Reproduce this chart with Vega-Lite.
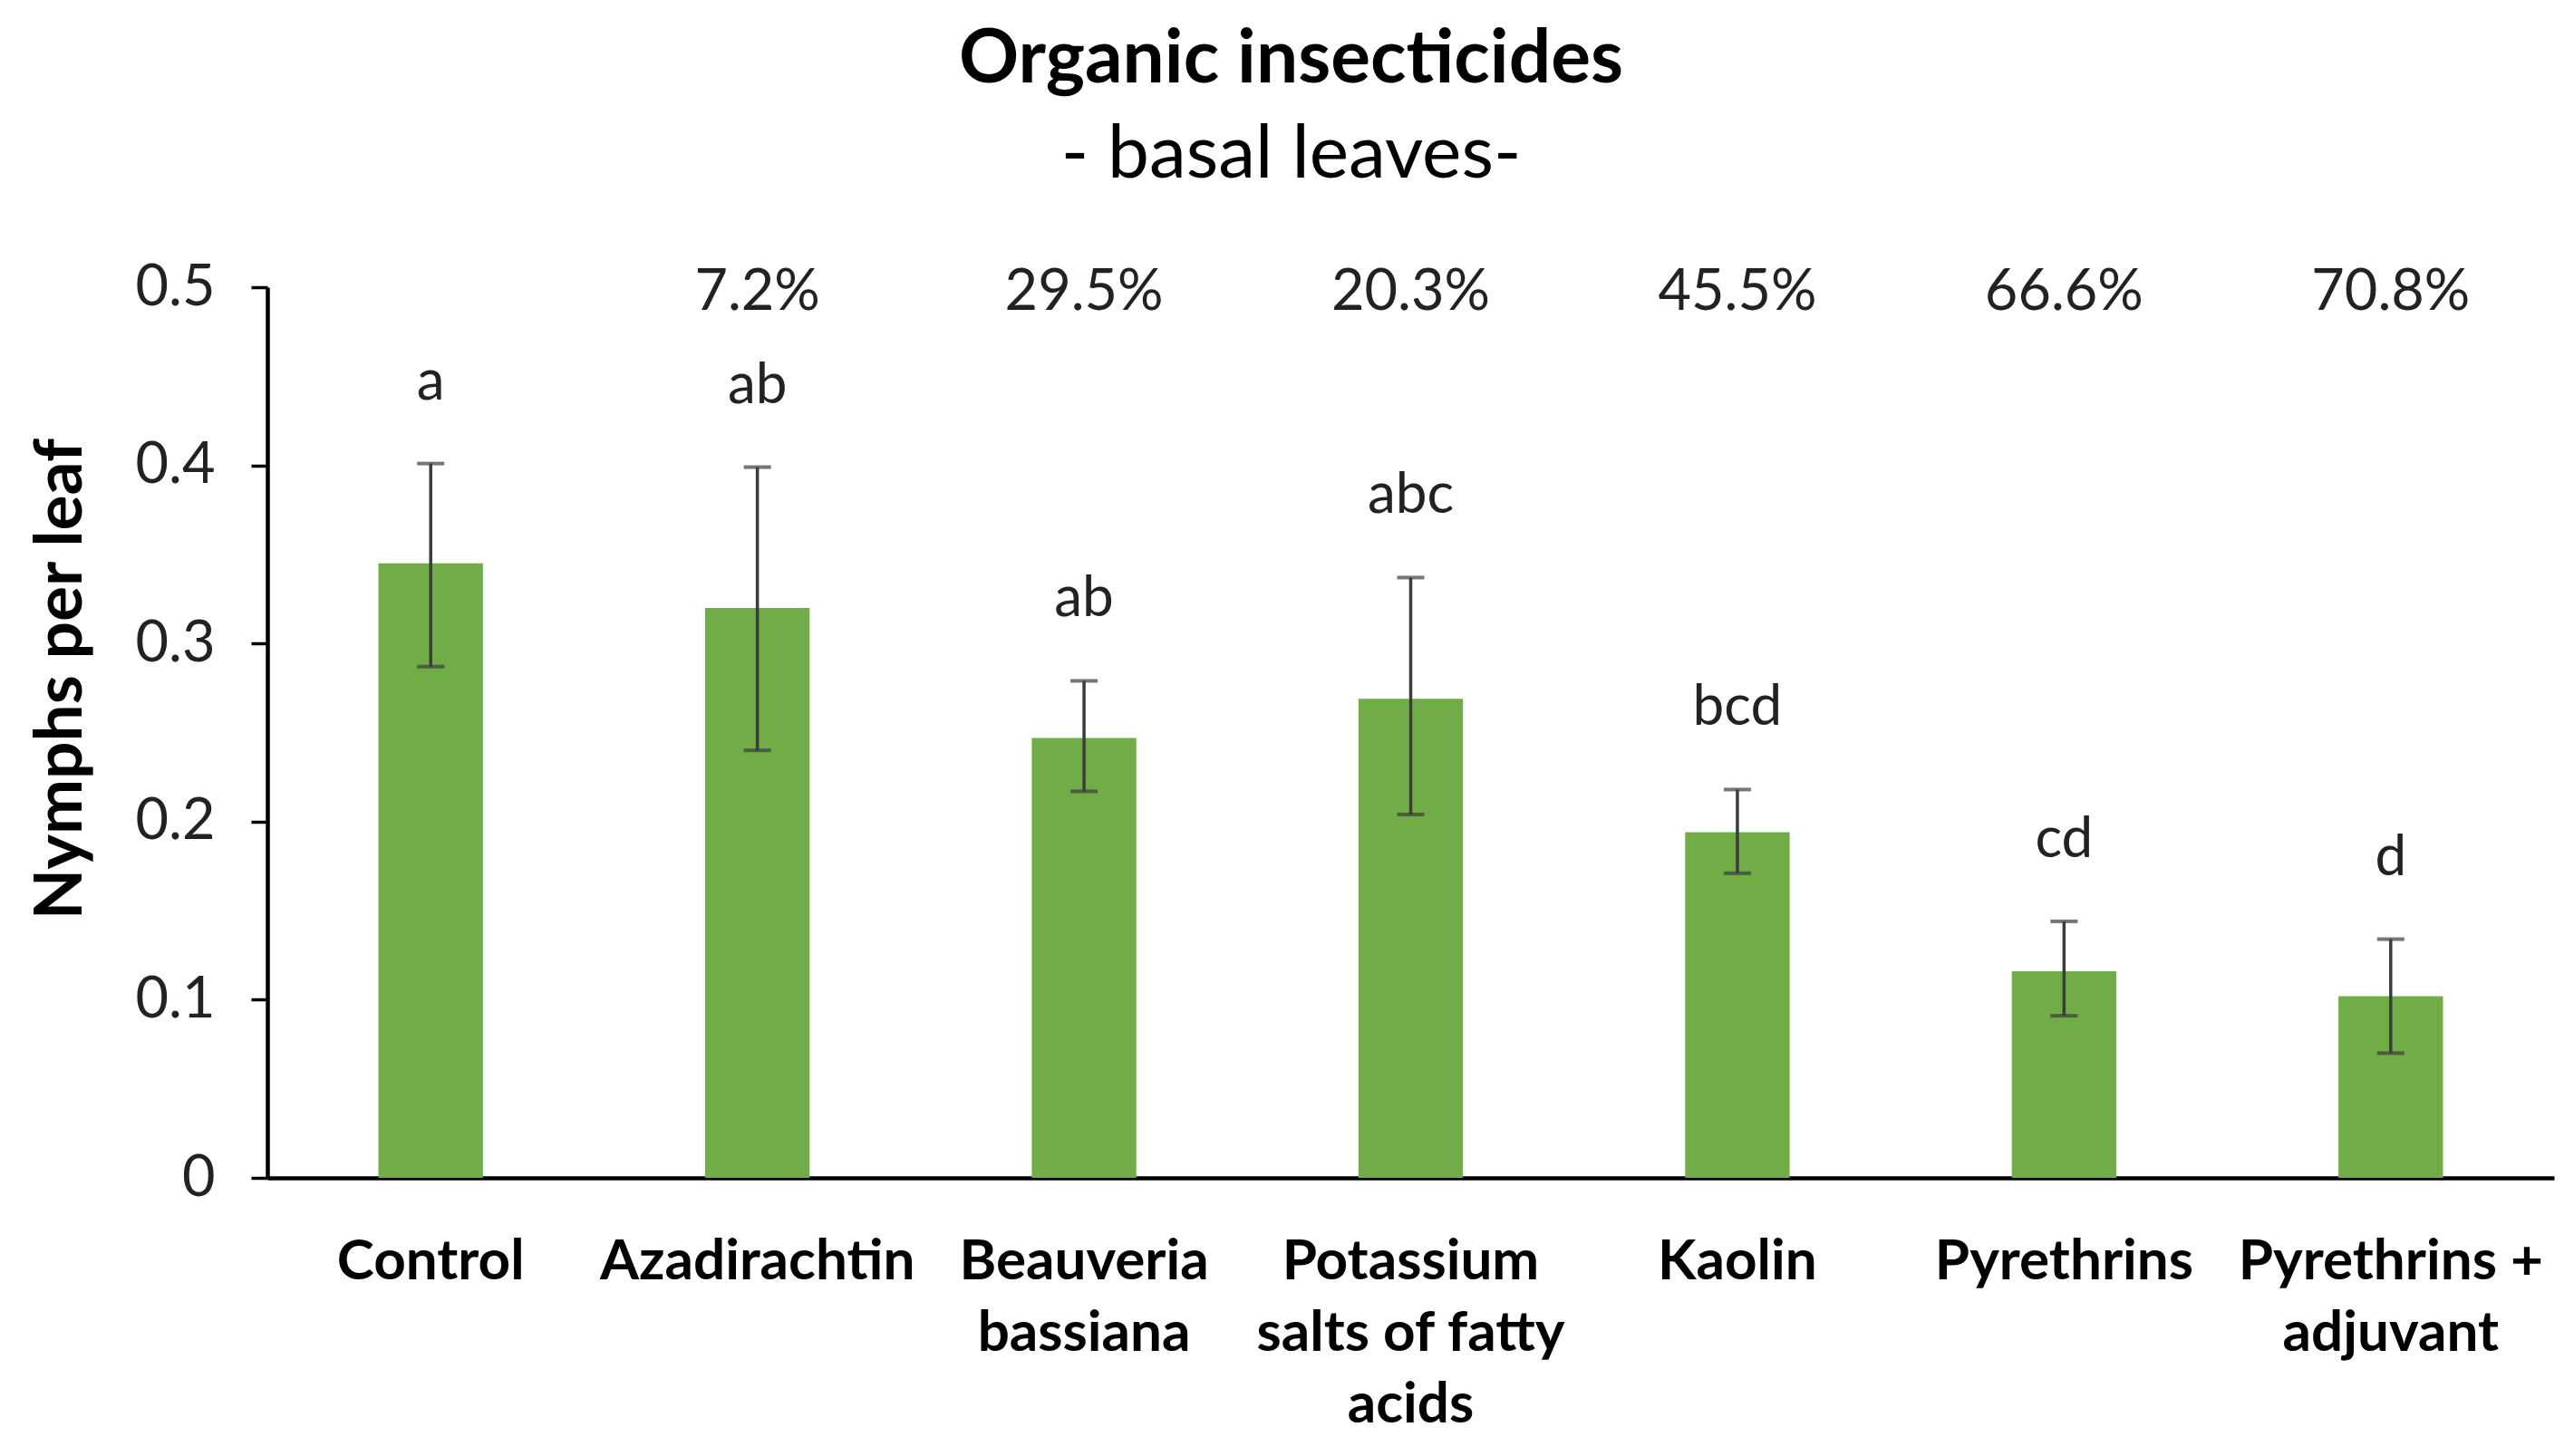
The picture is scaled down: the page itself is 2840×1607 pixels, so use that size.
{
  "$schema": "https://vega.github.io/schema/vega-lite/v6.json",
  "width": 2523,
  "height": 983,
  "autosize": "none",
  "padding": {"left": 295, "top": 317, "right": 22, "bottom": 307},
  "background": "white",
  "config": {"font": "Lato", "view": {"stroke": null}},
  "title": {
    "text": "Organic insecticides",
    "subtitle": "- basal leaves-",
    "font": "Lato",
    "subtitleFont": "Lato",
    "fontSize": 82,
    "fontWeight": "bold",
    "subtitleFontSize": 82,
    "subtitleFontWeight": "normal",
    "color": "black",
    "subtitleColor": "black",
    "anchor": "middle",
    "frame": "group",
    "dx": -132,
    "offset": 73,
    "subtitlePadding": 23
  },
  "data": {
    "values": [
      {"treatment": "Control", "mean": 0.345, "lo": 0.287, "hi": 0.401, "letter": "a", "pct": null},
      {"treatment": "Azadirachtin", "mean": 0.320, "lo": 0.240, "hi": 0.399, "letter": "ab", "pct": "7.2%"},
      {"treatment": "Beauveria bassiana", "mean": 0.247, "lo": 0.217, "hi": 0.279, "letter": "ab", "pct": "29.5%"},
      {"treatment": "Potassium salts of fatty acids", "mean": 0.269, "lo": 0.204, "hi": 0.337, "letter": "abc", "pct": "20.3%"},
      {"treatment": "Kaolin", "mean": 0.194, "lo": 0.171, "hi": 0.218, "letter": "bcd", "pct": "45.5%"},
      {"treatment": "Pyrethrins", "mean": 0.116, "lo": 0.091, "hi": 0.144, "letter": "cd", "pct": "66.6%"},
      {"treatment": "Pyrethrins + adjuvant", "mean": 0.102, "lo": 0.070, "hi": 0.134, "letter": "d", "pct": "70.8%"}
    ]
  },
  "encoding": {
    "x": {
      "field": "treatment",
      "type": "nominal",
      "sort": null,
      "scale": {"paddingInner": 0.68, "paddingOuter": 0.34},
      "axis": {
        "title": null,
        "labelAngle": 0,
        "labelFontSize": 62,
        "labelFontWeight": "bold",
        "labelColor": "black",
        "labelPadding": 62,
        "labelLineHeight": 79,
        "labelBaseline": "top",
        "labelOverlap": false,
        "labelLimit": 0,
        "ticks": false,
        "domainColor": "black",
        "domainWidth": 4.5,
        "labelExpr": "datum.value == 'Beauveria bassiana' ? ['Beauveria', 'bassiana'] : datum.value == 'Potassium salts of fatty acids' ? ['Potassium', 'salts of fatty', 'acids'] : datum.value == 'Pyrethrins + adjuvant' ? ['Pyrethrins +', 'adjuvant'] : datum.value"
      }
    }
  },
  "layer": [
    {
      "mark": {"type": "bar", "color": "#70AD47"},
      "encoding": {
        "y": {
          "field": "mean",
          "type": "quantitative",
          "scale": {"domain": [0, 0.5], "nice": false},
          "axis": {
            "title": "Nymphs per leaf",
            "titleFontSize": 73,
            "titleFontWeight": "bold",
            "titleColor": "black",
            "titleAngle": -90,
            "titleX": -228,
            "titleY": 432,
            "titleAlign": "center",
            "titleBaseline": "middle",
            "values": [0, 0.1, 0.2, 0.3, 0.4, 0.5],
            "format": "~g",
            "labelFontSize": 63,
            "labelColor": "#222222",
            "labelPadding": 40,
            "tickSize": 18,
            "tickWidth": 3.5,
            "tickColor": "black",
            "domainColor": "black",
            "domainWidth": 4.5,
            "grid": false
          }
        }
      }
    },
    {
      "mark": {"type": "rule", "color": "#3c3c3c", "strokeWidth": 3.5},
      "encoding": {
        "y": {"field": "lo", "type": "quantitative"},
        "y2": {"field": "hi"}
      }
    },
    {
      "mark": {"type": "tick", "color": "#3c3c3c", "size": 30, "thickness": 4},
      "encoding": {"y": {"field": "lo", "type": "quantitative"}}
    },
    {
      "mark": {"type": "tick", "color": "#3c3c3c", "size": 30, "thickness": 4},
      "encoding": {"y": {"field": "hi", "type": "quantitative"}}
    },
    {
      "mark": {"type": "text", "fontSize": 62, "color": "#222222", "baseline": "middle", "dy": -90},
      "encoding": {
        "y": {"field": "hi", "type": "quantitative"},
        "text": {"field": "letter"}
      }
    },
    {
      "transform": [{"filter": "datum.pct != null"}],
      "mark": {"type": "text", "fontSize": 63, "color": "#222222", "baseline": "middle"},
      "encoding": {
        "y": {"datum": 0.497},
        "text": {"field": "pct"}
      }
    }
  ]
}
